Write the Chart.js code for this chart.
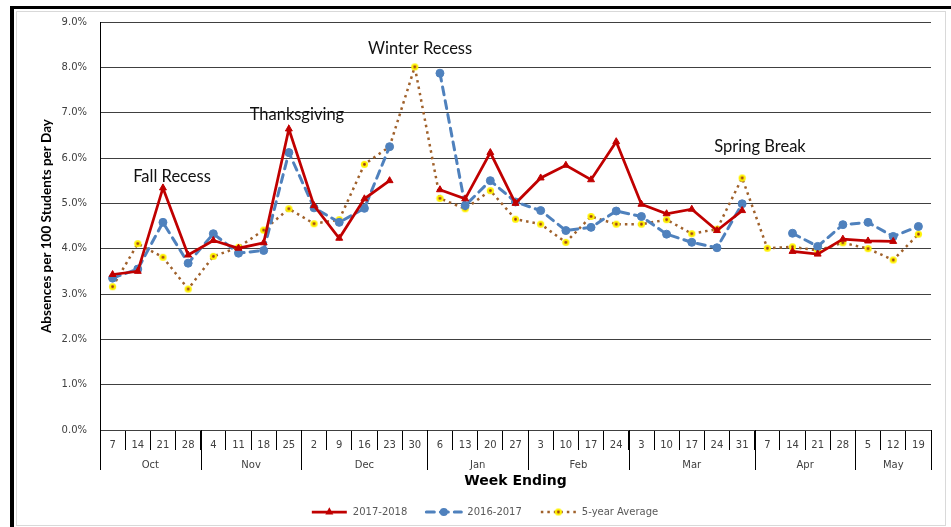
<!DOCTYPE html>
<html>
<head>
<meta charset="utf-8">
<script src="https://cdn.jsdelivr.net/npm/chart.js@4.4.1/dist/chart.umd.min.js"></script>
<style>
html, body { margin: 0; padding: 0; background: #fff; }
body { width: 951px; height: 527px; position: relative; overflow: hidden; }
#frame { position: absolute; left: 10px; top: 6px; width: 941px; height: 521px; border-left: 4px solid #000; border-top: 3px solid #000; box-sizing: border-box; }
#inner { position: absolute; left: 16px; top: 11px; width: 930px; height: 515px; border: 1px solid #d9d9d9; box-sizing: border-box; }
canvas { position: absolute; left: 0; top: 0; }
</style>
</head>
<body>
<div id="frame"></div>
<div id="inner"></div>
<canvas id="absenceChart" width="951" height="527"></canvas>
<script>
// semaines (fin de semaine) et mois
const weeks = ['7','14','21','28','4','11','18','25','2','9','16','23','30','6','13','20','27','3','10','17','24','3','10','17','24','31','7','14','21','28','5','12','19'];
const months = ['Oct', 'Nov', 'Dec', 'Jan', 'Feb', 'Mar', 'Apr', 'May'];
const weeksPerMonth = [4, 4, 5, 4, 4, 5, 4, 3];

// absences pour 100 eleves par jour (%)
const absences1718 = [3.43, 3.50, 5.34, 3.86, 4.18, 4.01, 4.13, 6.64, 4.95, 4.23, 5.10, 5.50, null, 5.30, 5.10, 6.12, 5.00, 5.56, 5.84, 5.52, 6.36, 4.98, 4.77, 4.87, 4.40, 4.84, null, 3.94, 3.88, 4.21, 4.17, 4.16, null];
const absences1617 = [3.35, 3.55, 4.58, 3.68, 4.33, 3.90, 3.96, 6.12, 4.90, 4.58, 4.89, 6.25, null, 7.87, 4.95, 5.50, 5.03, 4.84, 4.40, 4.47, 4.83, 4.71, 4.32, 4.14, 4.02, 4.99, null, 4.34, 4.05, 4.53, 4.58, 4.27, 4.49];
const average5yr = [3.16, 4.11, 3.81, 3.11, 3.83, 4.03, 4.41, 4.88, 4.55, 4.64, 5.86, 6.25, 8.01, 5.11, 4.88, 5.28, 4.65, 4.54, 4.14, 4.71, 4.54, 4.54, 4.64, 4.33, 4.43, 5.56, 4.01, 4.04, 3.96, 4.13, 4.00, 3.75, 4.32];

const seriesNames = ['2017-2018', '2016-2017', '5-year Average'];
const holidays = ['Fall Recess', 'Thanksgiving', 'Winter Recess', 'Spring Break'];

const RED = '#C00000';
const BLUE = '#4F81BD';
const BROWN = '#A0612B';

// marqueur jaune avec point brun au centre
function makeAvgMarker() {
    const c = document.createElement('canvas');
    c.width = 9; c.height = 9;
    const g = c.getContext('2d');
    g.fillStyle = '#FFF200';
    g.beginPath(); g.arc(4.5, 4.5, 3.6, 0, Math.PI * 2); g.fill();
    g.fillStyle = '#9B3A1A';
    g.beginPath(); g.arc(4.5, 4.5, 1.4, 0, Math.PI * 2); g.fill();
    return c;
}
const avgMarker = makeAvgMarker();

const monthAxisPlugin = {
    id: 'monthAxis',
    afterDraw(chart, args, opts) {
        const xs = chart.scales.x;
        const ctx = chart.ctx;
        const top = chart.chartArea.bottom;
        ctx.save();
        ctx.strokeStyle = '#000';
        ctx.lineWidth = 1;
        ctx.font = opts.font;
        ctx.fillStyle = opts.color;
        ctx.textAlign = 'center';
        ctx.textBaseline = 'middle';
        const edges = [xs.getPixelForValue(-0.5)];
        let start = 0;
        months.forEach((m, i) => {
            const end = start + weeksPerMonth[i];
            const x0 = xs.getPixelForValue(start - 0.5);
            const x1 = xs.getPixelForValue(end - 0.5);
            ctx.fillText(m, (x0 + x1) / 2, top + opts.labelOffset);
            edges.push(x1);
            start = end;
        });
        edges.forEach(px => {
            const x = Math.round(px) + 0.5;
            ctx.beginPath();
            ctx.moveTo(x, top);
            ctx.lineTo(x, top + opts.lineLength);
            ctx.stroke();
        });
        ctx.restore();
    }
};

const notesPlugin = {
    id: 'notes',
    afterDatasetsDraw(chart, args, opts) {
        const ctx = chart.ctx;
        ctx.save();
        ctx.font = opts.font;
        ctx.fillStyle = opts.color;
        ctx.textAlign = 'center';
        ctx.textBaseline = 'middle';
        opts.items.forEach(n => {
            ctx.fillText(n.text, chart.scales.x.getPixelForValue(n.at), chart.scales.y.getPixelForValue(n.value));
        });
        ctx.restore();
    }
};

function drawMarker(ctx, ds, x, y) {
    const r = ds.pointRadius;
    if (ds.pointStyle instanceof HTMLCanvasElement) {
        ctx.drawImage(ds.pointStyle, x - ds.pointStyle.width / 2, y - ds.pointStyle.height / 2);
        return;
    }
    ctx.fillStyle = ds.pointBackgroundColor;
    ctx.beginPath();
    if (ds.pointStyle === 'triangle') {
        ctx.moveTo(x, y - r * 1.2);
        ctx.lineTo(x + r, y + r * 0.6);
        ctx.lineTo(x - r, y + r * 0.6);
        ctx.closePath();
    } else {
        ctx.arc(x, y, r, 0, Math.PI * 2);
    }
    ctx.fill();
}

const lineLegendPlugin = {
    id: 'lineLegend',
    afterDraw(chart, args, opts) {
        const ctx = chart.ctx;
        ctx.save();
        ctx.font = opts.font;
        const items = chart.data.datasets.map(ds => ({ ds, w: opts.lineLength + opts.textGap + ctx.measureText(ds.label).width }));
        const total = items.reduce((a, it) => a + it.w, 0) + opts.itemGap * (items.length - 1);
        let x = opts.centerX - total / 2;
        const y = opts.y;
        items.forEach(({ ds, w }) => {
            ctx.strokeStyle = ds.borderColor;
            ctx.lineWidth = ds.borderWidth;
            ctx.lineCap = ds.borderCapStyle || 'butt';
            ctx.setLineDash(ds.borderDash || []);
            ctx.beginPath();
            ctx.moveTo(x, y);
            ctx.lineTo(x + opts.lineLength, y);
            ctx.stroke();
            ctx.setLineDash([]);
            drawMarker(ctx, ds, x + opts.lineLength / 2, y);
            ctx.fillStyle = opts.color;
            ctx.textBaseline = 'middle';
            ctx.textAlign = 'left';
            ctx.fillText(ds.label, x + opts.lineLength + opts.textGap, y);
            x += w + opts.itemGap;
        });
        ctx.restore();
    }
};

const ctx = document.getElementById('absenceChart').getContext('2d');
const absenceChart = new Chart(ctx, {
    type: 'line',
    data: {
        labels: weeks,
        datasets: [{
            label: seriesNames[0],
            data: absences1718,
            borderColor: RED,
            borderWidth: 2.75,
            pointStyle: 'triangle',
            pointRadius: 4,
            pointBackgroundColor: RED,
            pointBorderColor: RED,
            pointBorderWidth: 1,
            tension: 0
        }, {
            label: seriesNames[1],
            data: absences1617,
            borderColor: BLUE,
            borderWidth: 3,
            borderDash: [8, 6],
            borderCapStyle: 'round',
            pointStyle: 'circle',
            pointRadius: 4,
            pointBackgroundColor: BLUE,
            pointBorderColor: BLUE,
            pointBorderWidth: 1,
            tension: 0
        }, {
            label: seriesNames[2],
            data: average5yr,
            borderColor: BROWN,
            borderWidth: 2.5,
            borderDash: [2.5, 4],
            pointStyle: avgMarker,
            pointRadius: 4,
            pointBackgroundColor: '#FFF200',
            tension: 0
        }]
    },
    options: {
        responsive: false,
        animation: false,
        layout: {
            padding: { left: 36, top: 22, right: 20, bottom: 0 }
        },
        plugins: {
            legend: { display: false },
            tooltip: { enabled: false },
            monthAxis: { font: '10px "DejaVu Sans"', color: '#404040', labelOffset: 35, lineLength: 40 },
            notes: {
                font: '16.5px Lato',
                color: '#111',
                items: [
                    { text: holidays[0], at: 2.36, value: 5.58 },
                    { text: holidays[1], at: 7.32, value: 6.95 },
                    { text: holidays[2], at: 12.21, value: 8.41 },
                    { text: holidays[3], at: 25.71, value: 6.25 }
                ]
            },
            lineLegend: { font: '10px "DejaVu Sans"', color: '#595959', lineLength: 35, textGap: 6, itemGap: 19, centerX: 485, y: 512 }
        },
        scales: {
            x: {
                offset: true,
                grid: { offset: true, drawOnChartArea: false, drawTicks: true, tickLength: 20, color: '#000' },
                border: { display: false },
                ticks: { autoSkip: false, maxRotation: 0, padding: -11, color: '#404040', font: { family: 'DejaVu Sans', size: 10 } },
                title: {
                    display: true,
                    text: 'Week Ending',
                    color: '#000',
                    font: { family: 'DejaVu Sans', size: 14, weight: 'bold' },
                    padding: { top: 0, bottom: 37 }
                },
                afterFit: (scale) => { scale.height = 97; }
            },
            y: {
                min: 0,
                max: 9,
                ticks: {
                    stepSize: 1,
                    padding: 13,
                    color: '#404040',
                    font: { family: 'DejaVu Sans', size: 10 },
                    callback: (v) => v.toFixed(1) + '%'
                },
                grid: { color: '#404040', drawTicks: false },
                border: { display: true, color: '#000', width: 1 },
                title: {
                    display: true,
                    text: 'Absences per 100 Students per Day',
                    color: '#000',
                    font: { family: 'Lato', size: 13.5, weight: 'bold' },
                    padding: { top: 3, bottom: 0 }
                },
                afterFit: (scale) => { scale.width = 64; }
            }
        }
    },
    plugins: [monthAxisPlugin, notesPlugin, lineLegendPlugin]
});
</script>
</body>
</html>
